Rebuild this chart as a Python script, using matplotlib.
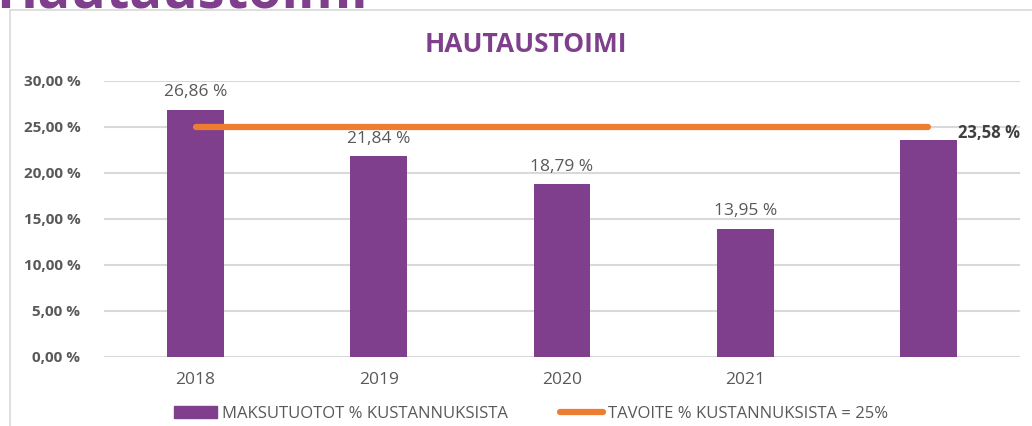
import matplotlib.pyplot as plt
from matplotlib.lines import Line2D
from matplotlib.patches import Patch
import numpy as np

categories = ['2018', '2019', '2020', '2021', '']
maksutuotot = [26.86, 21.84, 18.79, 13.95, 23.58]
tavoite = [25, 25, 25, 25, 25]
yticks = [0, 5, 10, 15, 20, 25, 30]

purple = '#7f3f8c'
orange = '#ed7d31'
gray = '#595959'

plt.rcParams['font.family'] = ['Open Sans', 'DejaVu Sans']

fig = plt.figure(figsize=(10.32, 4.26), dpi=100)
ax = fig.add_axes([104 / 1032, 1 - 357 / 426, (1020 - 104) / 1032, (357 - 81) / 426])

x = np.arange(len(categories))
ax.bar(x, maksutuotot, width=0.31, color=purple, zorder=2)
ax.plot(x, tavoite, color=orange, lw=4.5, solid_capstyle='round', zorder=3)

# data labels
for i, v in enumerate(maksutuotot):
    txt = f'{v:.2f} %'.replace('.', ',')
    if i == len(maksutuotot) - 1:
        ax.text(i + 0.16, v + 0.75, txt, ha='left', va='center', fontsize=12,
                fontweight='bold', color='#404040')
    else:
        ax.text(i, v + 1.9, txt, ha='center', va='center', fontsize=12.5, color=gray)

ax.set_xlim(-0.5, len(categories) - 0.5)
ax.set_ylim(0, 30)
ax.set_yticks(yticks)
ax.set_yticklabels([f'{t:.2f} %'.replace('.', ',') for t in yticks],
                   fontsize=11, fontweight='bold', color=gray)
ax.set_xticks(x)
ax.set_xticklabels(categories, fontsize=12.5, color=gray)
ax.tick_params(length=0)
ax.tick_params(axis='y', pad=17)
ax.tick_params(axis='x', pad=11)
ax.grid(axis='y', color='#d9d9d9', lw=1.5, zorder=0)
for s in ax.spines.values():
    s.set_visible(False)

fig.text(526 / 1032, 1 - 44 / 426, 'HAUTAUSTOIMI', color=purple, fontsize=19,
         fontweight='bold', ha='center', va='center')

# outer frame (left and top edges)
fig.add_artist(Line2D([10 / 1032, 10 / 1032], [0, 1 - 10 / 426], color='#d9d9d9', lw=1.2))
fig.add_artist(Line2D([10 / 1032, 1], [1 - 10 / 426, 1 - 10 / 426], color='#d9d9d9', lw=1.2))

# slide heading cut off at the top
fig.text(-0.004, 1 - 8 / 426, 'Hautaustoimi', fontsize=39, fontweight='bold',
         color=purple, va='baseline', ha='left')

handles = [Patch(color=purple), Line2D([0], [0], color=orange, lw=4.5, solid_capstyle='round')]
labels = ['MAKSUTUOTOT % KUSTANNUKSISTA', 'TAVOITE % KUSTANNUKSISTA = 25%']
fig.legend(handles, labels, loc='center', bbox_to_anchor=(531 / 1032, 1 - 414 / 426), ncol=2,
           frameon=False, prop={'size': 12}, labelcolor=gray,
           columnspacing=3.1, handlelength=2.6, handletextpad=0.3)

fig.savefig('out.png', dpi=100)
